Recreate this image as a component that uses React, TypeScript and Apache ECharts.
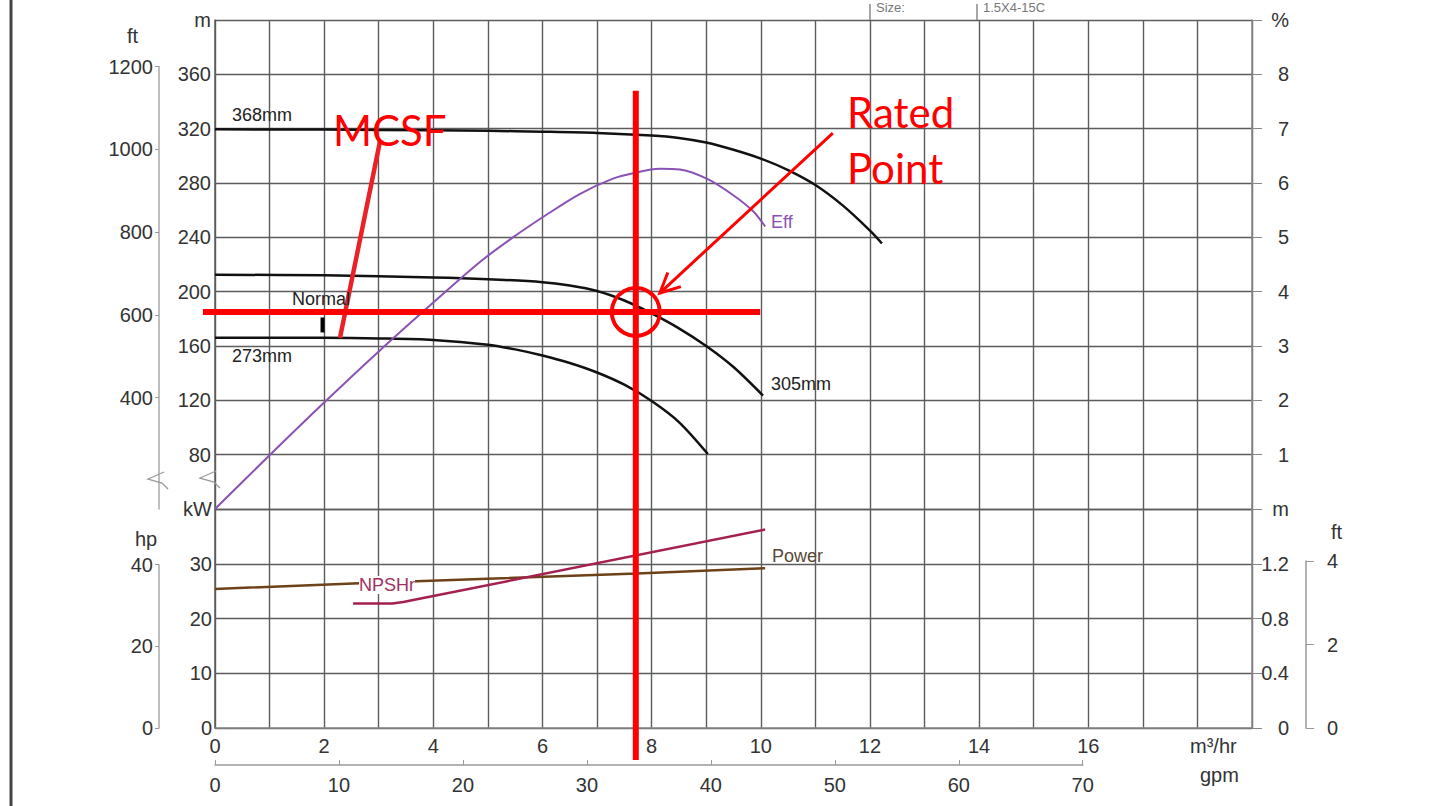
import React, { useEffect, useRef } from "react";
import * as echarts from "echarts";

// ---------- data ----------
const flowLabels = [0, 2, 4, 6, 8, 10, 12, 14, 16];
const headFtTicks = [400, 600, 800, 1000, 1200];
const curve368: [number, number][] = [
  [0, 319.5], [2, 319.3], [4, 318.8], [5, 318.4], [6, 317.8], [7, 316.9], [8, 315], [8.5, 313.2],
  [9, 309.8], [9.5, 304.5], [10, 298], [10.5, 289.5], [11, 278.5], [11.5, 263.5], [12, 245], [12.22, 235.5],
];
const curve305: [number, number][] = [
  [0, 212.5], [2, 212], [4, 210.5], [5, 209.2], [6, 207], [6.5, 204.5], [7, 200.5], [7.5, 193.5],
  [8, 184], [8.5, 173], [9, 160], [9.5, 144.5], [10.04, 123.5],
];
const curve273: [number, number][] = [
  [0, 166], [2, 166], [3, 165.6], [4, 164.5], [5, 161], [5.5, 157.5], [6, 153], [6.5, 147.5],
  [7, 140.5], [7.5, 131.5], [8, 119.5], [8.5, 104], [9.03, 80.5],
];
const effCurve: [number, number][] = [
  [0, 0], [1, 0.99], [2, 1.96], [3, 2.9], [4, 3.8], [4.86, 4.55], [5.46, 5.0], [6.08, 5.42],
  [6.69, 5.8], [7.29, 6.08], [7.66, 6.18], [8.15, 6.26], [8.52, 6.25], [9.01, 6.08],
  [9.49, 5.78], [9.86, 5.48], [10.08, 5.2],
];
const powerCurve: [number, number][] = [
  [0, 25.4], [2.53, 26.4], [4.86, 27.2], [7.73, 28.2], [10.08, 29.2],
];
const npshrCurve: [number, number][] = [
  [2.53, 0.91], [3.25, 0.91], [3.45, 0.92], [3.7, 0.94], [10.08, 1.45],
];
const mcsfLine: [number, number][] = [[2.29, 166], [3.02, 310]];
const normalMark: [number, number][] = [[1.97, 181], [1.97, 170]];
const ratedPoint: [number, number] = [7.71, 185];
const ratedVTop = 348; // m
const ratedHRange: [number, number] = [-0.22, 9.99];

// ---------- layout ----------
const L = 215, R = 1252, T = 20, MID = 509, B = 728;
const W = R - L;
const FT = 0.3048;
const upperPxPerM = (MID - T) / 360;
const ftTop = T + (400 - 1200 * FT) * upperPxPerM;
const hpTop = B - ((40 * 0.7457) / 40) * (B - MID);
const npFtTop = B - ((4 * FT) / 1.6) * (B - MID);
const gpmWidth = ((70 / 4.40287) / 19) * W;

const FONT = "Liberation Sans, Arial, sans-serif";
const gridColor = "#5c5c5c";
const lbl = { color: "#333", fontSize: 20, fontFamily: FONT };
const RED = "#ff0000";

export default function App() {
  const ref = useRef<HTMLDivElement>(null);
  useEffect(() => {
    if (!ref.current) return;
    const chart = echarts.init(ref.current, null, { renderer: "svg" });
    const split = { show: true, lineStyle: { color: gridColor, width: 1.4 } };
    const hiddenX = (g: number) => ({ gridIndex: g, type: "value", show: false, min: 0, max: 1 });
    const hiddenY = (g: number) => ({ gridIndex: g, type: "value", show: false, min: 0, max: 1 });
    const curve = (name: string, x: number, y: number, data: any, color: string, width: number, smooth: any) => ({
      type: "line", name, xAxisIndex: x, yAxisIndex: y, data, showSymbol: false,
      smooth, lineStyle: { color, width }, z: 3,
    });
    const option: any = {
      animation: false,
      backgroundColor: "#fff",
      grid: [
        { left: L, top: T, width: W, height: MID - T },
        { left: L, top: MID, width: W, height: B - MID },
        { left: 159, top: ftTop, width: 1, height: MID - ftTop },
        { left: 159, top: hpTop, width: 1, height: B - hpTop },
        { left: 1306, top: npFtTop, width: 1, height: B - npFtTop },
        { left: L, top: 740, width: gpmWidth, height: 25 },
      ],
      xAxis: [
        { gridIndex: 0, type: "value", min: 0, max: 19, interval: 1, axisLine: { show: false },
          axisTick: { show: false }, axisLabel: { show: false }, splitLine: split },
        { gridIndex: 1, type: "value", min: 0, max: 19, interval: 1,
          axisLine: { show: true, lineStyle: { color: "#888", width: 1.5 } },
          axisTick: { show: false },
          axisLabel: { ...lbl, interval: 0, margin: 8,
            formatter: (v: number) => (flowLabels.includes(v) ? String(v) : "") },
          splitLine: split },
        hiddenX(2), hiddenX(3), hiddenX(4),
        { gridIndex: 5, type: "value", min: 0, max: 70, interval: 10,
          axisLine: { show: true, lineStyle: { color: "#999", width: 1.5 } },
          axisTick: { show: true, inside: true, length: 5, lineStyle: { color: "#999" } },
          axisLabel: { ...lbl, margin: 10 }, splitLine: { show: false } },
      ],
      yAxis: [
        { gridIndex: 0, type: "value", position: "left", min: 40, max: 400, interval: 40,
          axisLine: { show: true, lineStyle: { color: gridColor, width: 1.5 } }, axisTick: { show: false },
          axisLabel: { ...lbl, margin: 4,
            formatter: (v: number) => (v === 400 ? "m" : v === 40 ? "" : String(v)) },
          splitLine: split },
        { gridIndex: 0, type: "value", position: "right", min: 0, max: 9, interval: 1,
          axisLine: { show: true, lineStyle: { color: "#888", width: 1.5 } },
          axisTick: { show: true, length: 10, lineStyle: { color: "#888" } },
          axisLabel: { ...lbl, margin: 37, align: "right",
            formatter: (v: number) => (v === 9 ? "%" : v === 0 ? "" : String(v)) },
          splitLine: { show: false } },
        { gridIndex: 1, type: "value", position: "left", min: 0, max: 40, interval: 10,
          axisLine: { show: true, lineStyle: { color: gridColor, width: 1.5 } }, axisTick: { show: false },
          axisLabel: { ...lbl, margin: 3, formatter: (v: number) => (v === 40 ? "kW" : String(v)) },
          splitLine: split },
        { gridIndex: 1, type: "value", position: "right", min: 0, max: 1.6, interval: 0.4,
          axisLine: { show: true, lineStyle: { color: "#888", width: 1.5 } },
          axisTick: { show: true, length: 10, lineStyle: { color: "#888" } },
          axisLabel: { ...lbl, margin: 37, align: "right",
            formatter: (v: number) => (Math.abs(v - 1.6) < 1e-6 ? "m" : v === 0 ? "0" : v.toFixed(1)) },
          splitLine: { show: false } },
        { gridIndex: 2, type: "value", position: "left", min: 40 / FT, max: 1200,
          axisLine: { show: true, lineStyle: { color: "#aaa", width: 1.5 } },
          axisTick: { show: true, length: 4, customValues: headFtTicks, lineStyle: { color: "#999" } },
          axisLabel: { ...lbl, margin: 6, customValues: headFtTicks, formatter: (v: number) => String(Math.round(v)) },
          splitLine: { show: false } },
        { gridIndex: 3, type: "value", position: "left", min: 0, max: 40, interval: 20,
          axisLine: { show: true, lineStyle: { color: "#aaa", width: 1.5 } },
          axisTick: { show: true, length: 4, lineStyle: { color: "#999" } },
          axisLabel: { ...lbl, margin: 6 }, splitLine: { show: false } },
        { gridIndex: 4, type: "value", position: "right", min: 0, max: 4, interval: 2,
          axisLine: { show: true, lineStyle: { color: "#999", width: 1.5 } },
          axisTick: { show: true, length: 8, lineStyle: { color: "#999" } },
          axisLabel: { ...lbl, margin: 20 }, splitLine: { show: false } },
        hiddenY(5),
      ],
      series: [
        curve("368mm", 0, 0, curve368, "#111", 2.5, 0.3),
        curve("305mm", 0, 0, curve305, "#111", 2.5, 0.3),
        curve("273mm", 0, 0, curve273, "#111", 2.5, 0.3),
        curve("Eff", 0, 1, effCurve, "#8a52b4", 2, 0.3),
        curve("Power", 1, 2, powerCurve, "#6e4218", 2.5, false),
        curve("NPSHr", 1, 3, npshrCurve, "#a51f50", 2.5, false),
        { type: "line", name: "MCSF", xAxisIndex: 0, yAxisIndex: 0, data: mcsfLine, showSymbol: false,
          lineStyle: { color: "#ea2228", width: 4.5 }, z: 4 },
        { type: "line", name: "Normal", xAxisIndex: 0, yAxisIndex: 0, data: normalMark, showSymbol: false,
          lineStyle: { color: "#000", width: 4 }, z: 4 },
      ],
    };
    chart.setOption(option);

    const px = (p: [number, number]) =>
      chart.convertToPixel({ xAxisIndex: 0, yAxisIndex: 0 }, p) as number[];
    const rp = px(ratedPoint);
    const vTop = px([ratedPoint[0], ratedVTop]);
    const hL = px([ratedHRange[0], ratedPoint[1]]);
    const hR = px([ratedHRange[1], ratedPoint[1]]);
    const tip = [rp[0] + 24, rp[1] - 19];
    const tail = [rp[0] + 197, rp[1] - 179];
    const dx = tail[0] - tip[0], dy = tail[1] - tip[1];
    const len = Math.hypot(dx, dy);
    const ux = dx / len, uy = dy / len;
    const head = (ang: number) => {
      const c = Math.cos(ang), s = Math.sin(ang);
      return [tip[0] + 22 * (ux * c - uy * s), tip[1] + 22 * (ux * s + uy * c)];
    };
    const txt = (text: string, x: number, y: number, fill = "#222", size = 19, extra: any = {}) => ({
      type: "text", x, y, z: 20,
      style: { text, fill, font: `${size}px ${FONT}`, textAlign: "left", textVerticalAlign: "middle", ...extra },
    });
    const redTxt = (text: string, x: number, y: number) => ({
      type: "text", x, y, z: 30,
      style: { text, fill: RED, font: "42px Lato, 'Open Sans', sans-serif", textAlign: "left", textVerticalAlign: "middle" },
    });
    const gline = (x1: number, y1: number, x2: number, y2: number, stroke: string, w: number, z = 25) => ({
      type: "line", z, shape: { x1, y1, x2, y2 }, style: { stroke, lineWidth: w },
    });
    const brk = (x: number, y: number) => ({
      type: "polyline", z: 10,
      shape: { points: [[x + 6, y - 8], [x - 10, y - 1], [x + 4, y + 3], [x + 10, y + 9]] },
      style: { stroke: "#999", lineWidth: 1.3, fill: "none" },
    });

    chart.setOption({
      graphic: [
        { type: "rect", z: 5, shape: { x: 9.5, y: 0, width: 3, height: 806 }, style: { fill: "#444" } },
        gline(870, 4, 870, 20, "#888", 1.5, 5),
        gline(977, 4, 977, 20, "#888", 1.5, 5),
        { type: "text", x: 876, y: 1, style: { text: "Size:", fill: "#777", font: `13px ${FONT}`, textVerticalAlign: "top" } },
        { type: "text", x: 983, y: 1, style: { text: "1.5X4-15C", fill: "#777", font: `13px ${FONT}`, textVerticalAlign: "top" } },
        txt("ft", 127, 36, "#333", 20),
        txt("hp", 135, 539, "#333", 20),
        txt("ft", 1331, 532, "#333", 20),
        txt("m³/hr", 1190, 746, "#333", 20),
        txt("gpm", 1200, 775, "#333", 20),
        brk(158, 480),
        brk(210, 479),
        txt("368mm", 232, 115, "#222", 18),
        txt("273mm", 232, 356, "#222", 18),
        txt("305mm", 771, 384, "#222", 18),
        txt("Normal", 292, 299, "#222", 18),
        txt("Eff", 771, 222, "#8a52b4", 18),
        txt("Power", 772, 556, "#5a4836", 18),
        txt("NPSHr", 359, 585, "#a03060", 18, { backgroundColor: "#fff" }),
        gline(vTop[0], vTop[1], rp[0], 760, RED, 6),
        gline(hL[0], hL[1], hR[0], hR[1], RED, 6),
        { type: "circle", z: 26, shape: { cx: rp[0], cy: rp[1], r: 24 }, style: { fill: "none", stroke: RED, lineWidth: 4 } },
        gline(tip[0], tip[1], tail[0], tail[1], RED, 3),
        { type: "polyline", z: 26, shape: { points: [head(0.45), tip, head(-0.45)] }, style: { stroke: RED, lineWidth: 3, fill: "none" } },
        redTxt("MCSF", 333, 130),
        redTxt("Rated", 847, 112),
        redTxt("Point", 847, 168),
      ],
    });
    return () => chart.dispose();
  }, []);
  return (
    <div
      ref={ref}
      style={{ position: "fixed", left: 0, top: 0, width: 1445, height: 806, background: "#fff" }}
    />
  );
}
